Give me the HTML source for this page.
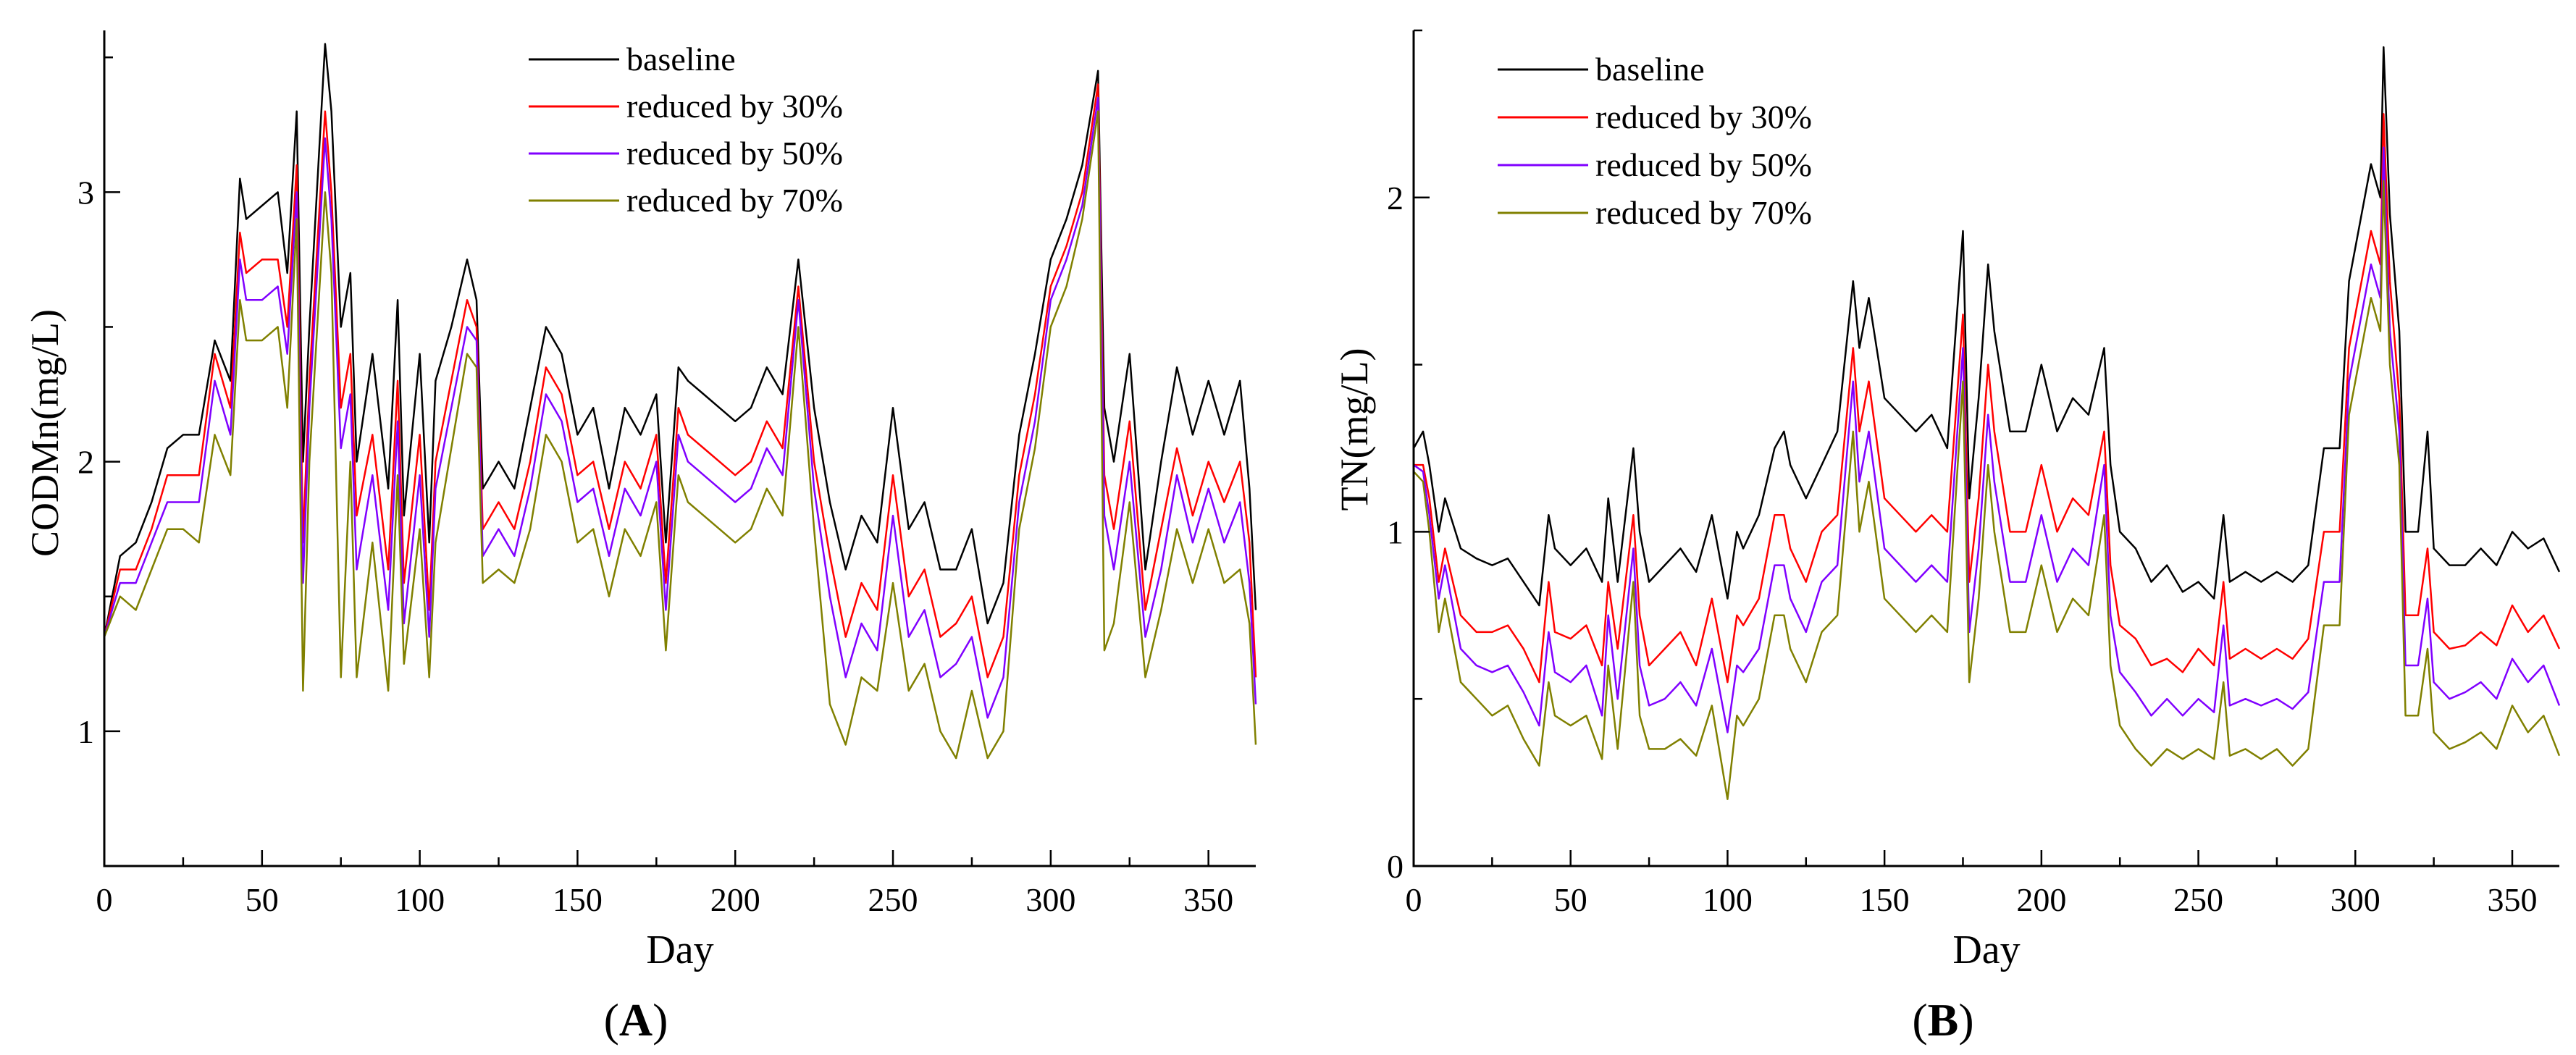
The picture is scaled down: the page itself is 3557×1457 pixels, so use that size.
<!DOCTYPE html>
<html><head><meta charset="utf-8"><style>
html,body{margin:0;padding:0;background:#fff;}
svg{display:block;font-family:"Liberation Serif",serif;}
svg text{font-family:"Liberation Serif",serif;}
</style></head><body>
<svg id="fig" width="3557" height="1457" viewBox="0 0 3557 1457" font-family="Liberation Serif, serif"></svg>
<script>
const daysA=[0,5,10,15,20,25,30,35,40,43,45,50,55,58,61,63,65,70,72,75,78,80,85,90,93,95,100,103,105,110,115,118,120,125,130,135,140,145,150,155,160,165,170,175,178,182,185,190,195,200,205,210,215,220,225,230,235,240,245,250,255,260,265,270,275,280,285,290,295,300,305,310,315,317,320,325,330,335,340,345,350,355,360,363,365];
const codBaseline=[1.35,1.65,1.7,1.85,2.05,2.1,2.1,2.45,2.3,3.05,2.9,2.95,3.0,2.7,3.3,2.0,2.5,3.55,3.3,2.5,2.7,2.0,2.4,1.9,2.6,1.8,2.4,1.7,2.3,2.5,2.75,2.6,1.9,2.0,1.9,2.2,2.5,2.4,2.1,2.2,1.9,2.2,2.1,2.25,1.7,2.35,2.3,2.25,2.2,2.15,2.2,2.35,2.25,2.75,2.2,1.85,1.6,1.8,1.7,2.2,1.75,1.85,1.6,1.6,1.75,1.4,1.55,2.1,2.4,2.75,2.9,3.1,3.45,2.2,2.0,2.4,1.6,2.0,2.35,2.1,2.3,2.1,2.3,1.9,1.45];
const codR30=[1.35,1.6,1.6,1.75,1.95,1.95,1.95,2.4,2.2,2.85,2.7,2.75,2.75,2.5,3.1,1.7,2.3,3.3,3.0,2.2,2.4,1.8,2.1,1.6,2.3,1.55,2.1,1.45,2.0,2.3,2.6,2.5,1.75,1.85,1.75,2.0,2.35,2.25,1.95,2.0,1.75,2.0,1.9,2.1,1.55,2.2,2.1,2.05,2.0,1.95,2.0,2.15,2.05,2.65,2.0,1.65,1.35,1.55,1.45,1.95,1.5,1.6,1.35,1.4,1.5,1.2,1.35,1.95,2.25,2.65,2.8,3.0,3.4,1.95,1.75,2.15,1.45,1.75,2.05,1.8,2.0,1.85,2.0,1.7,1.2];
const codR50=[1.35,1.55,1.55,1.7,1.85,1.85,1.85,2.3,2.1,2.75,2.6,2.6,2.65,2.4,3.0,1.55,2.2,3.2,2.9,2.05,2.25,1.6,1.95,1.45,2.15,1.4,1.95,1.35,1.9,2.2,2.5,2.45,1.65,1.75,1.65,1.9,2.25,2.15,1.85,1.9,1.65,1.9,1.8,2.0,1.45,2.1,2.0,1.95,1.9,1.85,1.9,2.05,1.95,2.6,1.9,1.5,1.2,1.4,1.3,1.8,1.35,1.45,1.2,1.25,1.35,1.05,1.2,1.85,2.15,2.6,2.75,2.95,3.35,1.8,1.6,2.0,1.35,1.6,1.95,1.7,1.9,1.7,1.85,1.55,1.1];
const codR70=[1.35,1.5,1.45,1.6,1.75,1.75,1.7,2.1,1.95,2.6,2.45,2.45,2.5,2.2,2.9,1.15,2.0,3.0,2.7,1.2,2.0,1.2,1.7,1.15,1.95,1.25,1.75,1.2,1.7,2.05,2.4,2.35,1.55,1.6,1.55,1.75,2.1,2.0,1.7,1.75,1.5,1.75,1.65,1.85,1.3,1.95,1.85,1.8,1.75,1.7,1.75,1.9,1.8,2.5,1.75,1.1,0.95,1.2,1.15,1.55,1.15,1.25,1.0,0.9,1.15,0.9,1.0,1.75,2.05,2.5,2.65,2.9,3.3,1.3,1.4,1.85,1.2,1.45,1.75,1.55,1.75,1.55,1.6,1.4,0.95];

const daysB=[0,3,5,8,10,15,20,25,30,35,40,43,45,50,55,60,62,65,70,72,75,80,85,90,95,100,103,105,110,115,118,120,125,130,135,140,142,145,150,155,160,165,170,175,177,180,183,185,190,195,200,205,210,215,220,222,225,230,235,240,245,250,255,258,260,265,270,275,280,285,290,295,298,300,305,308,309,311,314,316,320,323,325,330,335,340,345,350,355,360,365];
const tnBaseline=[1.25,1.3,1.2,1.0,1.1,0.95,0.92,0.9,0.92,0.85,0.78,1.05,0.95,0.9,0.95,0.85,1.1,0.85,1.25,1.0,0.85,0.9,0.95,0.88,1.05,0.8,1.0,0.95,1.05,1.25,1.3,1.2,1.1,1.2,1.3,1.75,1.55,1.7,1.4,1.35,1.3,1.35,1.25,1.9,1.1,1.4,1.8,1.6,1.3,1.3,1.5,1.3,1.4,1.35,1.55,1.2,1.0,0.95,0.85,0.9,0.82,0.85,0.8,1.05,0.85,0.88,0.85,0.88,0.85,0.9,1.25,1.25,1.75,1.85,2.1,2.0,2.45,1.95,1.6,1.0,1.0,1.3,0.95,0.9,0.9,0.95,0.9,1.0,0.95,0.98,0.88];
const tnR30=[1.2,1.2,1.1,0.85,0.95,0.75,0.7,0.7,0.72,0.65,0.55,0.85,0.7,0.68,0.72,0.6,0.85,0.65,1.05,0.75,0.6,0.65,0.7,0.6,0.8,0.55,0.75,0.72,0.8,1.05,1.05,0.95,0.85,1.0,1.05,1.55,1.3,1.45,1.1,1.05,1.0,1.05,1.0,1.65,0.85,1.1,1.5,1.3,1.0,1.0,1.2,1.0,1.1,1.05,1.3,0.9,0.72,0.68,0.6,0.62,0.58,0.65,0.6,0.85,0.62,0.65,0.62,0.65,0.62,0.68,1.0,1.0,1.55,1.65,1.9,1.8,2.25,1.75,1.4,0.75,0.75,0.95,0.7,0.65,0.66,0.7,0.66,0.78,0.7,0.75,0.65];
const tnR50=[1.2,1.18,1.05,0.8,0.9,0.65,0.6,0.58,0.6,0.52,0.42,0.7,0.58,0.55,0.6,0.45,0.75,0.5,0.95,0.6,0.48,0.5,0.55,0.48,0.65,0.4,0.6,0.58,0.65,0.9,0.9,0.8,0.7,0.85,0.9,1.45,1.15,1.3,0.95,0.9,0.85,0.9,0.85,1.55,0.7,0.95,1.35,1.15,0.85,0.85,1.05,0.85,0.95,0.9,1.2,0.75,0.58,0.52,0.45,0.5,0.45,0.5,0.46,0.72,0.48,0.5,0.48,0.5,0.47,0.52,0.85,0.85,1.45,1.55,1.8,1.7,2.15,1.6,1.3,0.6,0.6,0.8,0.55,0.5,0.52,0.55,0.5,0.62,0.55,0.6,0.48];
const tnR70=[1.18,1.15,1.0,0.7,0.8,0.55,0.5,0.45,0.48,0.38,0.3,0.55,0.45,0.42,0.45,0.32,0.6,0.35,0.85,0.45,0.35,0.35,0.38,0.33,0.48,0.2,0.45,0.42,0.5,0.75,0.75,0.65,0.55,0.7,0.75,1.3,1.0,1.15,0.8,0.75,0.7,0.75,0.7,1.45,0.55,0.8,1.2,1.0,0.7,0.7,0.9,0.7,0.8,0.75,1.05,0.6,0.42,0.35,0.3,0.35,0.32,0.35,0.32,0.55,0.33,0.35,0.32,0.35,0.3,0.35,0.72,0.72,1.35,1.45,1.7,1.6,2.05,1.5,1.2,0.45,0.45,0.65,0.4,0.35,0.37,0.4,0.35,0.48,0.4,0.45,0.33];

const xTicks=[0,50,100,150,200,250,300,350];
const yTicksA=[1,2,3];
const yTicksB=[0,1,2];
const legendLabels=["baseline","reduced by 30%","reduced by 50%","reduced by 70%"];
const seriesColors=["#000000","#ff0000","#8000ff","#808000"];

const NS="http://www.w3.org/2000/svg";
const svg=document.getElementById('fig');
function mk(tag,attrs,parent){const e=document.createElementNS(NS,tag);for(const k in attrs)e.setAttribute(k,attrs[k]);(parent||svg).appendChild(e);return e;}

function panel(cfg){
  const g=mk('g',{});
  
  
  const X=d=>cfg.x0+(d-0)*(cfg.x1-cfg.x0)/365;
  const Y=v=>cfg.yb-(v-cfg.vmin)*(cfg.yb-cfg.yt)/(cfg.vmax-cfg.vmin);
  cfg.series.forEach((s,i)=>{
    const n=Math.min(cfg.days.length,s.length);
    let pts=[];for(let k=0;k<n;k++)pts.push(X(cfg.days[k]).toFixed(1)+','+Y(s[k]).toFixed(1));
    const p=mk('polyline',{points:pts.join(' '),fill:'none',stroke:seriesColors[i],'stroke-width':2.5,'stroke-linejoin':'round'},g);
    
    
  });
  const ax=mk('path',{d:`M${cfg.x0},${cfg.yt} V${cfg.yb} H${cfg.x1}`,fill:'none',stroke:'#000','stroke-width':3},g);
  
  
  for(let d=0;d<=365;d+=25){
    const major=d%50===0;
    mk('line',{x1:X(d),x2:X(d),y1:cfg.yb,y2:cfg.yb-(major?22:12),stroke:'#000','stroke-width':2.5},g);
  }
  xTicks.forEach(t=>{
    const tx=mk('text',{x:X(t),y:cfg.yb+62,'font-size':46,'text-anchor':'middle','font-family':'Liberation Serif, serif'},g);
    tx.textContent=t;
    
    
  });
  for(let v=Math.ceil(cfg.vmin*2)/2;v<=cfg.vmax;v+=0.5){
    const major=Math.abs(v-Math.round(v))<1e-6;
    mk('line',{x1:cfg.x0,x2:cfg.x0+(major?22:12),y1:Y(v),y2:Y(v),stroke:'#000','stroke-width':2.5},g);
  }
  cfg.yTicks.forEach(t=>{
    const tx=mk('text',{x:cfg.x0-14,y:Y(t)+16,'font-size':46,'text-anchor':'end','font-family':'Liberation Serif, serif'},g);
    tx.textContent=t;
    
    
  });
  const xt=mk('text',{x:(cfg.x0+cfg.x1)/2,y:1330,'font-size':56,'text-anchor':'middle','font-family':'Liberation Serif, serif'},g);
  xt.textContent='Day';
  
  
  const yt=mk('text',{x:cfg.ytx,y:cfg.yty,'font-size':54,'text-anchor':'middle','font-family':'Liberation Serif, serif',transform:`rotate(-90 ${cfg.ytx} ${cfg.yty})`},g);
  yt.textContent=cfg.ytitle;
  
  
  legendLabels.forEach((l,i)=>{
    const y=cfg.ly+i*cfg.lgap;
    const ln=mk('line',{x1:cfg.lx,x2:cfg.lx+125,y1:y,y2:y,stroke:seriesColors[i],'stroke-width':3},g);
    
    
    const tx=mk('text',{x:cfg.lx+135,y:y+15,'font-size':46,'font-family':'Liberation Serif, serif'},g);
    tx.textContent=l;
    
    
  });
  const lab=mk('text',{x:cfg.labx,y:1430,'font-size':64,'text-anchor':'middle','font-family':'Liberation Serif, serif'},g);
  lab.innerHTML='(<tspan font-weight="bold">'+cfg.letter+'</tspan>)';
  
  
}

panel({name:'panel-a-codmn',x0:144,x1:1734,yt:42,yb:1196,vmin:0.5,vmax:3.6,days:daysA,
  series:[codBaseline,codR30,codR50,codR70],yTicks:yTicksA,ytitle:'CODMn(mg/L)',ytx:80,yty:598,
  lx:730,ly:82,lgap:65,labx:878,letter:'A'});
panel({name:'panel-b-tn',x0:1952,x1:3534,yt:42,yb:1196,vmin:0,vmax:2.5,days:daysB,
  series:[tnBaseline,tnR30,tnR50,tnR70],yTicks:yTicksB,ytitle:'TN(mg/L)',ytx:1888,yty:593,
  lx:2068,ly:96,lgap:66,labx:2683,letter:'B'});
</script>
</body></html>
